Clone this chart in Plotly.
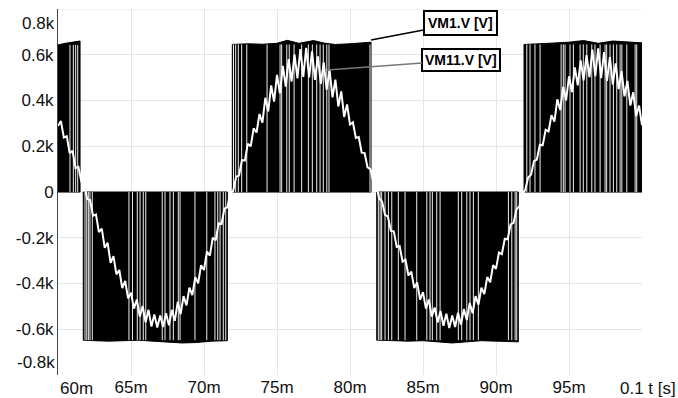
import numpy as np
import plotly.graph_objects as go

# ---------------- data ----------------
# VM11.V [V] : filtered output, one value every 0.2 ms from 60 ms to 100 ms
vm11_t0_ms = 60.0
vm11_dt_ms = 0.2
vm11_half1 = [289, 310, 238, 244, 169, 180, 104, 110, 45, 31, -31, -35, -104, -98, -175, -160,
              -244, -222, -310, -280, -360, -341, -420, -389, -465, -440, -510, -470, -545, -498,
              -570, -515, -588, -535, -592, -540, -590, -530, -583, -515, -563, -480, -534, -455,
              -496, -418, -451, -372, -399, -320]
vm11_half2 = [-341, -260, -278, -200, -211, -137, -140, -72, -67, -5, 5, 67, 72, 140, 137, 211,
              200, 278, 260, 341, 303, 412, 352, 466, 395, 512, 431, 551, 461, 581, 483, 602,
              497, 625, 503, 630, 501, 615, 490, 593, 473, 567, 447, 533, 414, 491, 374, 440,
              328, 383]
vm11_half3 = [295, 305, 236, 240, 172, 170, 108, 100, 42, 28, -28, -42, -100, -108, -170, -172,
              -240, -236, -305, -295, -365, -348, -420, -395, -470, -438, -510, -470, -545, -505,
              -570, -520, -585, -532, -595, -540, -590, -528, -580, -512, -560, -485, -530, -455,
              -492, -418, -446, -372, -395, -320]
vm11_half4 = [-336, -265, -272, -205, -206, -142, -135, -76, -63, -8, 8, 63, 76, 135, 142, 206,
              205, 272, 265, 336, 308, 405, 358, 460, 400, 506, 437, 545, 466, 575, 488, 598,
              502, 622, 506, 628, 498, 612, 486, 590, 470, 562, 450, 528, 418, 486, 378, 436,
              332, 378]
vm11_last = [292]

# VM1.V [V] : PWM output, drawn as switching blocks (edge level samples, ms / V)
pwm_b1_t = [60.0, 60.5, 61.0, 61.51]
pwm_b1_v = [643, 650, 655, 660]
pwm_b2_t = [61.73, 62.5, 63.5, 64.5, 65.5, 66.5, 67.5, 68.5, 69.5, 70.5, 71.60]
pwm_b2_v = [-648, -650, -652, -650, -648, -652, -655, -660, -658, -652, -650]
pwm_b3_t = [71.94, 73.0, 74.0, 75.0, 75.7, 76.5, 77.5, 78.3, 79.0, 80.0, 81.44]
pwm_b3_v = [645, 648, 646, 650, 663, 650, 662, 650, 645, 648, 655]
pwm_b4_t = [81.83, 83.0, 84.0, 85.0, 86.0, 87.0, 88.0, 89.0, 90.0, 91.53]
pwm_b4_v = [-648, -650, -652, -650, -655, -660, -655, -650, -652, -655]
pwm_b5_t = [91.92, 93.0, 94.0, 95.0, 96.0, 97.0, 98.0, 99.0, 100.0]
pwm_b5_v = [645, 648, 650, 655, 662, 650, 660, 655, 652]

# short zero-intervals visible inside each block (ms)
pwm_b1_gaps = [60.82, 61.05, 61.21, 61.35]
pwm_b2_gaps = [61.85, 61.97, 62.08, 62.19, 62.35, 64.86, 65.10, 65.43, 65.62, 65.84, 66.01,
               67.14, 67.33, 67.67, 67.90, 68.24, 68.36, 69.38, 70.19, 70.75, 70.94, 71.10,
               71.32, 71.49]
pwm_b3_gaps = [72.02, 72.17, 72.35, 72.58, 72.93, 74.32, 75.21, 75.32, 75.67, 75.84, 76.17,
               76.69, 77.15, 77.42, 77.72, 77.95, 78.17, 78.41, 78.56, 81.37]
pwm_b4_gaps = [81.94, 82.06, 82.17, 82.40, 82.63, 82.86, 83.31, 83.77, 84.57, 85.26, 85.48,
               85.64, 85.94, 86.17, 87.42, 87.65, 88.00, 88.22, 88.45, 88.79, 90.85, 91.08,
               91.31, 91.42]
pwm_b5_gaps = [92.11, 92.33, 92.67, 93.02, 94.46, 94.61, 94.73, 95.07, 95.30, 95.76, 95.98,
               96.22, 96.56, 96.78, 97.13, 97.47, 97.58, 97.81, 98.04, 98.27, 98.50, 98.62,
               98.96, 99.53, 99.64]

x_tick_vals = [0.065, 0.070, 0.075, 0.080, 0.085, 0.090, 0.095]
x_tick_text = ["65m", "70m", "75m", "80m", "85m", "90m", "95m"]
y_tick_vals = [-600, -400, -200, 0, 200, 400, 600]
y_tick_text = ["-0.6k", "-0.4k", "-0.2k", "0", "0.2k", "0.4k", "0.6k"]
x_range = [0.06, 0.1]
y_range = [-800, 800]

# ---------------- figure ----------------
FONT = "Arial, Liberation Sans, sans-serif"
fig = go.Figure()

blocks = [(pwm_b1_t, pwm_b1_v, pwm_b1_gaps), (pwm_b2_t, pwm_b2_v, pwm_b2_gaps),
          (pwm_b3_t, pwm_b3_v, pwm_b3_gaps), (pwm_b4_t, pwm_b4_v, pwm_b4_gaps),
          (pwm_b5_t, pwm_b5_v, pwm_b5_gaps)]

bx, by = [], []
for t, v, _ in blocks:
    ts = [ti / 1000 for ti in t]
    bx += [ts[0]] + ts + [ts[-1], ts[0], None]
    by += [0] + v + [0, 0, None]
fig.add_trace(go.Scatter(x=bx, y=by, mode="lines", fill="toself", fillcolor="black",
                         line=dict(color="black", width=1), name="VM1.V [V]",
                         hoverinfo="skip", showlegend=False))

gx, gy = [], []
for t, v, gaps in blocks:
    sign = 1 if v[0] > 0 else -1
    lvl = sign * min(abs(val) for val in v)
    for g in gaps:
        gx += [g / 1000, g / 1000, None]
        gy += [0, lvl, None]
fig.add_trace(go.Scatter(x=gx, y=gy, mode="lines", line=dict(color="#eeeeee", width=1),
                         hoverinfo="skip", showlegend=False))

vm11_v = vm11_half1 + vm11_half2 + vm11_half3 + vm11_half4 + vm11_last
vm11_t = (vm11_t0_ms + vm11_dt_ms * np.arange(len(vm11_v))) / 1000
fig.add_trace(go.Scatter(x=vm11_t, y=vm11_v, mode="lines", line=dict(color="white", width=2),
                         name="VM11.V [V]", showlegend=False))

fig.update_layout(
    width=678, height=398,
    margin=dict(l=58, r=36, t=9, b=23, autoexpand=False),
    paper_bgcolor="white", plot_bgcolor="white",
    font=dict(family=FONT, size=17, color="#111111"),
    showlegend=False,
    xaxis=dict(range=x_range, tickvals=x_tick_vals, ticktext=x_tick_text, automargin=False,
               showgrid=True, gridcolor="#e6e6e6", gridwidth=1, zeroline=False,
               showline=False, ticks=""),
    yaxis=dict(range=y_range, tickvals=y_tick_vals, ticktext=y_tick_text, automargin=False,
               showgrid=True, gridcolor="#e6e6e6", gridwidth=1, zeroline=False,
               showline=True, linecolor="#444444", linewidth=1, ticks=""),
)
fig.add_hline(y=800, line=dict(color="#e6e6e6", width=1), layer="below")

# edge tick labels, moved inside like the original
fig.add_annotation(x=x_range[0], y=0, xref="x", yref="paper", text="60m", showarrow=False,
                   xanchor="left", yanchor="top", yshift=-2, font=dict(size=17))
fig.add_annotation(x=1.0616, y=0, xref="paper", yref="paper", text="0.1 t [s]", showarrow=False,
                   xanchor="right", yanchor="top", yshift=-2, font=dict(size=17))
fig.add_annotation(x=0, y=y_range[1], xref="paper", yref="y", text="0.8k", showarrow=False,
                   xanchor="right", yanchor="top", xshift=-1, yshift=-3, font=dict(size=17))
fig.add_annotation(x=0, y=y_range[0], xref="paper", yref="y", text="-0.8k", showarrow=False,
                   xanchor="right", yanchor="bottom", xshift=-1, yshift=1, font=dict(size=17))

# series labels with leader lines
fig.add_annotation(x=0.08144, y=664, text="<b>VM1.V [V]</b>", showarrow=True, arrowhead=0,
                   arrowwidth=1.5, arrowcolor="black", ax=89, ay=-17,
                   bgcolor="white", bordercolor="black", borderwidth=2, borderpad=3,
                   font=dict(size=14, color="black"))
fig.add_annotation(x=0.07843, y=533, text="<b>VM11.V [V]</b>", showarrow=True, arrowhead=0,
                   arrowwidth=1.5, arrowcolor="#777777", ax=134, ay=-10,
                   bgcolor="white", bordercolor="black", borderwidth=2, borderpad=2,
                   font=dict(size=14, color="black"))

fig.write_html("out.html", config={"displayModeBar": False},
               post_script="document.body.style.margin='0';document.body.style.overflow='hidden';")
